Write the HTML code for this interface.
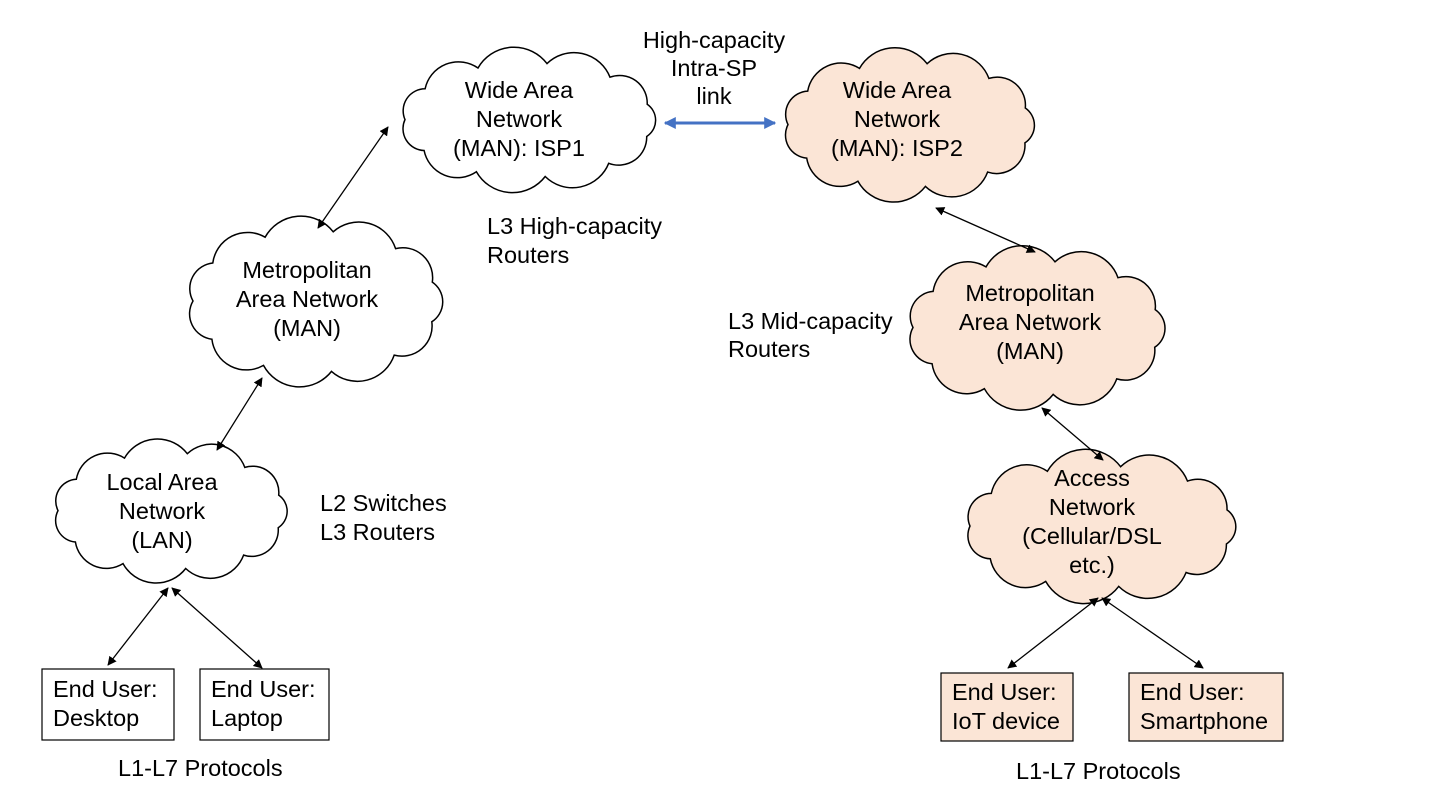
<!DOCTYPE html>
<html><head><meta charset="utf-8"><style>
html,body{margin:0;padding:0;background:#fff}
svg{display:block}
text{font-family:"Liberation Sans",Arial,sans-serif;font-size:23.5px;fill:#000}
</style></head><body>
<svg id="s" width="1440" height="810" viewBox="0 0 1440 810" xmlns="http://www.w3.org/2000/svg">
<defs>
<marker id="a" viewBox="0 0 10 10" refX="9" refY="5" markerWidth="7" markerHeight="7" orient="auto-start-reverse"><path d="M0,0 L10,5 L0,10 z" fill="#000"/></marker>
<marker id="b" viewBox="0 0 10 10" refX="9" refY="5" markerWidth="4" markerHeight="4" orient="auto-start-reverse"><path d="M0,0 L10,5 L0,10 z" fill="#4472C4"/></marker>
</defs>
<g id="clouds"></g>
<g stroke="#000" stroke-width="1.3" marker-start="url(#a)" marker-end="url(#a)">
<line x1="108" y1="665" x2="168" y2="588"/>
<line x1="262" y1="668" x2="172" y2="588"/>
<line x1="217" y1="450" x2="262" y2="378"/>
<line x1="318" y1="228" x2="388" y2="127"/>
<line x1="936" y1="208" x2="1035" y2="252"/>
<line x1="1042" y1="408" x2="1103" y2="460"/>
<line x1="1008" y1="668" x2="1098" y2="598"/>
<line x1="1203" y1="668" x2="1102" y2="598"/>
</g>
<line x1="665" y1="123" x2="775" y2="123" stroke="#4472C4" stroke-width="3" marker-start="url(#b)" marker-end="url(#b)"/>
<rect x="42" y="669" width="132" height="71" fill="#fff" stroke="#000" stroke-width="1.2"/>
<rect x="200" y="669" width="129" height="71" fill="#fff" stroke="#000" stroke-width="1.2"/>
<rect x="941" y="673" width="132" height="68" fill="#FBE5D6" stroke="#000" stroke-width="1.2"/>
<rect x="1129" y="673" width="154" height="68" fill="#FBE5D6" stroke="#000" stroke-width="1.2"/>
<text x="53" y="697">End User:</text><text x="53" y="726">Desktop</text>
<text x="211" y="697">End User:</text><text x="211" y="726">Laptop</text>
<text x="952" y="700">End User:</text><text x="952" y="729">IoT device</text>
<text x="1140" y="700">End User:</text><text x="1140" y="729">Smartphone</text>
<g text-anchor="middle">
<text x="162" y="490">Local Area</text><text x="162" y="519">Network</text><text x="162" y="548">(LAN)</text>
<text x="307" y="278">Metropolitan</text><text x="307" y="307">Area Network</text><text x="307" y="336">(MAN)</text>
<text x="519" y="98">Wide Area</text><text x="519" y="127">Network</text><text x="519" y="156">(MAN): ISP1</text>
<text x="897" y="98">Wide Area</text><text x="897" y="127">Network</text><text x="897" y="156">(MAN): ISP2</text>
<text x="1030" y="301">Metropolitan</text><text x="1030" y="330">Area Network</text><text x="1030" y="359">(MAN)</text>
<text x="1092" y="486">Access</text><text x="1092" y="515">Network</text><text x="1092" y="544">(Cellular/DSL</text><text x="1092" y="573">etc.)</text>
<text x="714" y="48">High-capacity</text><text x="714" y="76">Intra-SP</text><text x="714" y="104">link</text>
</g>
<text x="487" y="234">L3 High-capacity</text><text x="487" y="263">Routers</text>
<text x="728" y="329">L3 Mid-capacity</text><text x="728" y="357">Routers</text>
<text x="320" y="511">L2 Switches</text><text x="320" y="540">L3 Routers</text>
<text x="118" y="776">L1-L7 Protocols</text>
<text x="1016" y="779">L1-L7 Protocols</text>
</svg>
<script>
(function(){
var cl=[[48,440,245,142,'#fff'],[183,218,264,167,'#fff'],[395,50,267,140,'#fff'],[778,50,262,150,'#FBE5D6'],[903,248,267,160,'#FBE5D6'],[960,453,282,147,'#FBE5D6']];
var g=document.getElementById('clouds'),ns='http://www.w3.org/2000/svg';
cl.forEach(function(c){
var cx=c[0]+c[2]/2,cy=c[1]+c[3]/2,rx=c[2]/2-10,ry=c[3]/2-13,n=11,pts=[];
for(var i=0;i<n;i++){var t=-Math.PI/2+i*2*Math.PI/n+0.15;pts.push([cx+rx*Math.cos(t),cy+ry*Math.sin(t)]);}
var d='M'+pts[0][0].toFixed(1)+','+pts[0][1].toFixed(1);
for(var i=1;i<=n;i++){var p=pts[i%n],q=pts[i-1];var ch=Math.hypot(p[0]-q[0],p[1]-q[1]);var r=ch*0.6;
d+=' A'+r.toFixed(1)+','+r.toFixed(1)+' 0 0 1 '+p[0].toFixed(1)+','+p[1].toFixed(1);}
d+='Z';
var e=document.createElementNS(ns,'path');e.setAttribute('d',d);e.setAttribute('fill',c[4]);e.setAttribute('stroke','#000');e.setAttribute('stroke-width','1.5');g.appendChild(e);
});
})();
</script>
</body></html>
